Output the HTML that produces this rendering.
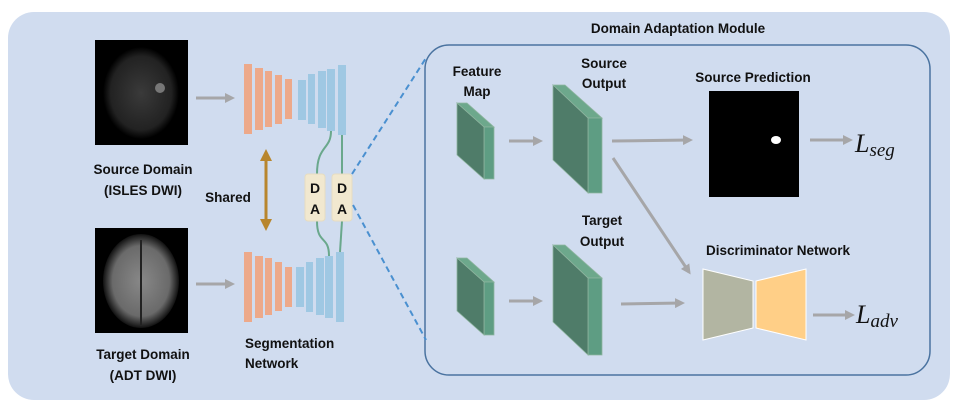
<!DOCTYPE html>
<html><head><meta charset="utf-8"><style>
body{margin:0;background:#fff}
text{font-family:"Liberation Sans",sans-serif;font-weight:bold;font-size:13.5px;fill:#111}
</style></head><body>
<svg width="957" height="412" viewBox="0 0 957 412" xmlns="http://www.w3.org/2000/svg">
<defs>
<marker id="a" markerWidth="10" markerHeight="10" refX="7" refY="5" orient="auto" markerUnits="userSpaceOnUse"><path d="M0,0L10,5L0,10z" fill="#a6a6a8"/></marker>
<marker id="g" markerWidth="12" markerHeight="12" refX="9" refY="6" orient="auto" markerUnits="userSpaceOnUse"><path d="M0,0L12,6L0,12z" fill="#b8862e"/></marker>
<radialGradient id="b1"><stop offset="0" stop-color="#3a3a3a"/><stop offset="0.8" stop-color="#222"/><stop offset="1" stop-color="#000"/></radialGradient>
<radialGradient id="b2"><stop offset="0" stop-color="#888"/><stop offset="0.75" stop-color="#6a6a6a"/><stop offset="1" stop-color="#111"/></radialGradient>
</defs>
<rect x="8" y="12" width="942" height="388" rx="26" fill="#d0dcef"/>
<rect x="425" y="45" width="505" height="330" rx="24" fill="none" stroke="#4a73a0" stroke-width="1.5"/>
<rect x="95" y="40" width="93" height="105" fill="#000"/>
<ellipse cx="141" cy="93" rx="38" ry="46" fill="url(#b1)"/>
<ellipse cx="160" cy="88" rx="5" ry="5" fill="#777"/>
<rect x="95" y="228" width="93" height="105" fill="#000"/>
<ellipse cx="141" cy="281" rx="38" ry="47" fill="url(#b2)"/>
<line x1="141" y1="240" x2="141" y2="325" stroke="#222" stroke-width="2"/>
<line x1="196" y1="98" x2="232" y2="98" stroke="#a6a6a8" stroke-width="3" marker-end="url(#a)"/>
<line x1="196" y1="284" x2="232" y2="284" stroke="#a6a6a8" stroke-width="3" marker-end="url(#a)"/>
<g fill="#eda98a">
<rect x="244" y="64" width="8" height="70"/><rect x="255" y="68" width="8" height="62"/><rect x="265" y="71" width="7" height="56"/><rect x="275" y="75" width="7" height="49"/><rect x="285" y="79" width="7" height="40"/>
<rect x="244" y="252" width="8" height="70"/><rect x="255" y="256" width="8" height="62"/><rect x="265" y="258" width="7" height="57"/><rect x="275" y="262" width="7" height="49"/><rect x="285" y="267" width="7" height="40"/>
</g>
<g fill="#9fc8e3">
<rect x="298" y="80" width="8" height="40"/><rect x="308" y="74" width="7" height="50"/><rect x="318" y="71" width="8" height="57"/><rect x="327" y="69" width="8" height="62"/><rect x="338" y="65" width="8" height="70"/>
<rect x="296" y="267" width="8" height="40"/><rect x="306" y="262" width="7" height="50"/><rect x="316" y="258" width="8" height="57"/><rect x="325" y="256" width="8" height="62"/><rect x="336" y="252" width="8" height="70"/>
</g>
<g stroke="#6aa88c" stroke-width="2" fill="none">
<path d="M331,131 C331,150 317,145 317,174"/>
<path d="M342,135 L342,174"/>
<path d="M317,221 C317,245 329,235 329,256"/>
<path d="M342,221 L340,252"/>
</g>
<rect x="305" y="174" width="20" height="47" rx="3" fill="#f1e8cf" stroke="#e6dcc0"/>
<rect x="332" y="174" width="20" height="47" rx="3" fill="#f1e8cf" stroke="#e6dcc0"/>
<text x="315" y="193" text-anchor="middle" style="font-size:14px">D</text><text x="315" y="214" text-anchor="middle" style="font-size:14px">A</text>
<text x="342" y="193" text-anchor="middle" style="font-size:14px">D</text><text x="342" y="214" text-anchor="middle" style="font-size:14px">A</text>
<line x1="266" y1="162" x2="266" y2="217" stroke="#b8862e" stroke-width="3"/>
<line x1="266" y1="170" x2="266" y2="152" stroke="#b8862e" stroke-width="3" marker-end="url(#g)"/>
<line x1="266" y1="210" x2="266" y2="228" stroke="#b8862e" stroke-width="3" marker-end="url(#g)"/>
<g stroke="#4a90d0" stroke-width="2" stroke-dasharray="6,4">
<line x1="352" y1="174" x2="426" y2="58"/><line x1="353" y1="205" x2="426" y2="340"/>
</g>
<g stroke="#8fb5a0" stroke-width="0.8">
<polygon points="457,103 467,103 494,127 484,127" fill="#6da88c"/>
<polygon points="484,127 494,127 494,179 484,179" fill="#5e9d83"/>
<polygon points="457,103 484,127 484,179 457,155" fill="#4f7c69"/>
<polygon points="457,258 467,258 494,282 484,282" fill="#6da88c"/>
<polygon points="484,282 494,282 494,335 484,335" fill="#5e9d83"/>
<polygon points="457,258 484,282 484,335 457,311" fill="#4f7c69"/>
<polygon points="553,85 565,85 602,118 588,118" fill="#6da88c"/>
<polygon points="588,118 602,118 602,193 588,193" fill="#5e9d83"/>
<polygon points="553,85 588,118 588,193 553,160" fill="#4f7c69"/>
<polygon points="553,245 565,245 602,278 588,278" fill="#6da88c"/>
<polygon points="588,278 602,278 602,355 588,355" fill="#5e9d83"/>
<polygon points="553,245 588,278 588,355 553,322" fill="#4f7c69"/>
</g>
<g stroke="#a6a6a8" stroke-width="3" marker-end="url(#a)">
<line x1="509" y1="141" x2="540" y2="141"/>
<line x1="509" y1="301" x2="540" y2="301"/>
<line x1="612" y1="141" x2="690" y2="140"/>
<line x1="613" y1="158" x2="689" y2="272"/>
<line x1="621" y1="304" x2="682" y2="303"/>
<line x1="810" y1="140" x2="850" y2="140"/>
<line x1="813" y1="315" x2="852" y2="315"/>
</g>
<rect x="709" y="91" width="90" height="106" fill="#000"/>
<ellipse cx="776" cy="140" rx="5" ry="4" fill="#fff"/>
<polygon points="703,269 753,281 753,328 703,340" fill="#b2b5a2" stroke="#fff" stroke-width="1"/>
<polygon points="756,281 806,269 806,340 756,328" fill="#ffcf87" stroke="#fff" stroke-width="1"/>
<text x="855" y="152" style="font-family:'Liberation Serif',serif;font-style:italic;font-weight:normal;font-size:26px">L<tspan dy="4" style="font-size:19px">seg</tspan></text>
<text x="856" y="323" style="font-family:'Liberation Serif',serif;font-style:italic;font-weight:normal;font-size:26px">L<tspan dy="4" style="font-size:19px">adv</tspan></text>
<text x="678" y="33" text-anchor="middle">Domain Adaptation Module</text>
<text x="477" y="76" text-anchor="middle">Feature</text><text x="477" y="96" text-anchor="middle">Map</text>
<text x="604" y="68" text-anchor="middle">Source</text><text x="604" y="88" text-anchor="middle">Output</text>
<text x="753" y="82" text-anchor="middle">Source Prediction</text>
<text x="602" y="225" text-anchor="middle">Target</text><text x="602" y="246" text-anchor="middle">Output</text>
<text x="778" y="255" text-anchor="middle">Discriminator Network</text>
<text x="143" y="174" text-anchor="middle">Source Domain</text><text x="143" y="195" text-anchor="middle">(ISLES DWI)</text>
<text x="228" y="202" text-anchor="middle">Shared</text>
<text x="143" y="359" text-anchor="middle">Target Domain</text><text x="143" y="380" text-anchor="middle">(ADT DWI)</text>
<text x="245" y="348">Segmentation</text><text x="245" y="368">Network</text>
</svg>
</body></html>
